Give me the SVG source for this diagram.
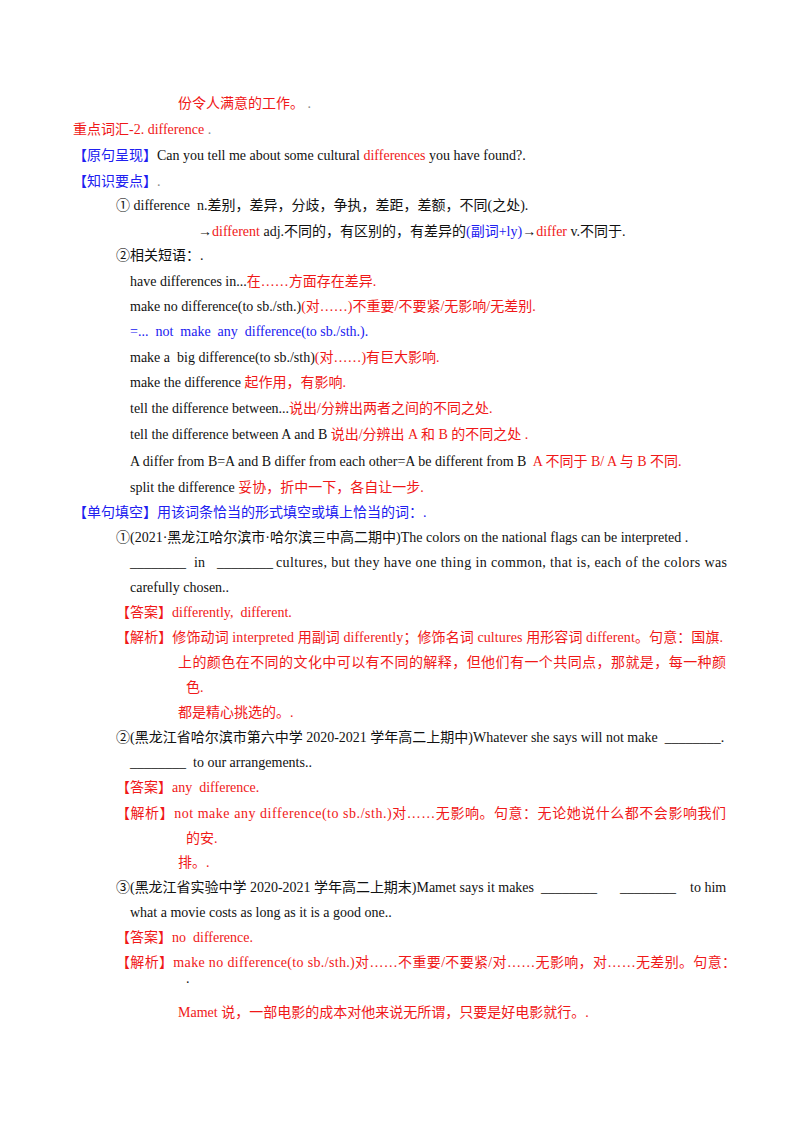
<svg xmlns="http://www.w3.org/2000/svg" width="800" height="1132" viewBox="0 0 800 1132">
<style>
text{font-family:"Liberation Serif","Noto Sans CJK SC",serif;font-size:14px;fill:#111}
.r{fill:#f01818}.b{fill:#2020f0}
</style>
<rect width="800" height="1132" fill="#fff"/>
<text x="178" y="108" class="r">份令人满意的工作。 <tspan fill="#888">.</tspan></text>
<text x="73" y="134" class="r">重点词汇-2. difference <tspan fill="#888">.</tspan></text>
<text x="73" y="160"><tspan class="b">【原句呈现】</tspan>Can you tell me about some cultural <tspan class="r">differences</tspan> you have found?.</text>
<text x="73" y="186"><tspan class="b">【知识要点】</tspan><tspan fill="#888">.</tspan></text>
<text x="116" y="210" xml:space="preserve">① difference  n.差别，差异，分歧，争执，差距，差额，不同(之处).</text>
<text x="198" y="236">→<tspan class="r">different</tspan> adj.不同的，有区别的，有差异的<tspan class="b">(副词+ly)</tspan>→<tspan class="r">differ</tspan> v.不同于.</text>
<text x="116" y="260">②相关短语：.</text>
<text x="130" y="286">have differences in...<tspan class="r">在……方面存在差异.</tspan></text>
<text x="130" y="311">make no difference(to sb./sth.)<tspan class="r">(对……)不重要/不要紧/无影响/无差别.</tspan></text>
<text x="130" y="336" class="b" xml:space="preserve">=...  not  make  any  difference(to sb./sth.).</text>
<text x="130" y="362" xml:space="preserve">make a  big difference(to sb./sth)<tspan class="r">(对……)有巨大影响.</tspan></text>
<text x="130" y="387">make the difference <tspan class="r">起作用，有影响.</tspan></text>
<text x="130" y="413">tell the difference between...<tspan class="r">说出/分辨出两者之间的不同之处.</tspan></text>
<text x="130" y="439">tell the difference between A and B <tspan class="r">说出/分辨出 A 和 B 的不同之处 .</tspan></text>
<text x="130" y="466" xml:space="preserve">A differ from B=A and B differ from each other=A be different from B  <tspan class="r">A 不同于 B/ A 与 B 不同.</tspan></text>
<text x="130" y="492">split the difference <tspan class="r">妥协，折中一下，各自让一步.</tspan></text>
<text x="73" y="517" class="b">【单句填空】用该词条恰当的形式填空或填上恰当的词：.</text>
<text x="116" y="542">①(2021·黑龙江哈尔滨市·哈尔滨三中高二期中)The colors on the national flags can be interpreted .</text>
<text x="130" y="567">________</text>
<text x="194" y="567">in</text>
<text x="217" y="567">________</text>
<text x="276" y="567" textLength="451" lengthAdjust="spacing">cultures, but they have one thing in common, that is, each of the colors was</text>
<text x="130" y="592">carefully chosen..</text>
<text x="116" y="617" class="r" xml:space="preserve">【答案】differently,  different.</text>
<text x="116" y="642" class="r" textLength="607" lengthAdjust="spacing">【解析】修饰动词 interpreted 用副词 differently；修饰名词 cultures 用形容词 different。句意：国旗.</text>
<text x="178" y="667" class="r" textLength="548" lengthAdjust="spacing">上的颜色在不同的文化中可以有不同的解释，但他们有一个共同点，那就是，每一种颜</text>
<text x="186" y="692" class="r">色.</text>
<text x="178" y="717" class="r">都是精心挑选的。.</text>
<text x="116" y="742" xml:space="preserve">②(黑龙江省哈尔滨市第六中学 2020-2021 学年高二上期中)Whatever she says will not make  ________.</text>
<text x="130" y="767" xml:space="preserve">________  to our arrangements..</text>
<text x="116" y="792" class="r" xml:space="preserve">【答案】any  difference.</text>
<text x="116" y="818" class="r" textLength="610" lengthAdjust="spacing">【解析】not  make  any  difference(to  sb./sth.)对……无影响。句意：无论她说什么都不会影响我们</text>
<text x="186" y="843" class="r">的安.</text>
<text x="178" y="867" class="r">排。.</text>
<text x="116" y="892" textLength="418" lengthAdjust="spacing">③(黑龙江省实验中学 2020-2021 学年高二上期末)Mamet says it makes</text>
<text x="541" y="892">________</text>
<text x="620" y="892">________</text>
<text x="690" y="892">to him</text>
<text x="130" y="917">what a movie costs as long as it is a good one..</text>
<text x="116" y="942" class="r" xml:space="preserve">【答案】no  difference.</text>
<text x="116" y="967" class="r" textLength="620" lengthAdjust="spacing">【解析】make  no  difference(to  sb./sth.)对……不重要/不要紧/对……无影响，对……无差别。句意：</text>
<text x="186" y="983" fill="#888">.</text>
<text x="178" y="1017" class="r">Mamet 说，一部电影的成本对他来说无所谓，只要是好电影就行。.</text>
</svg>
